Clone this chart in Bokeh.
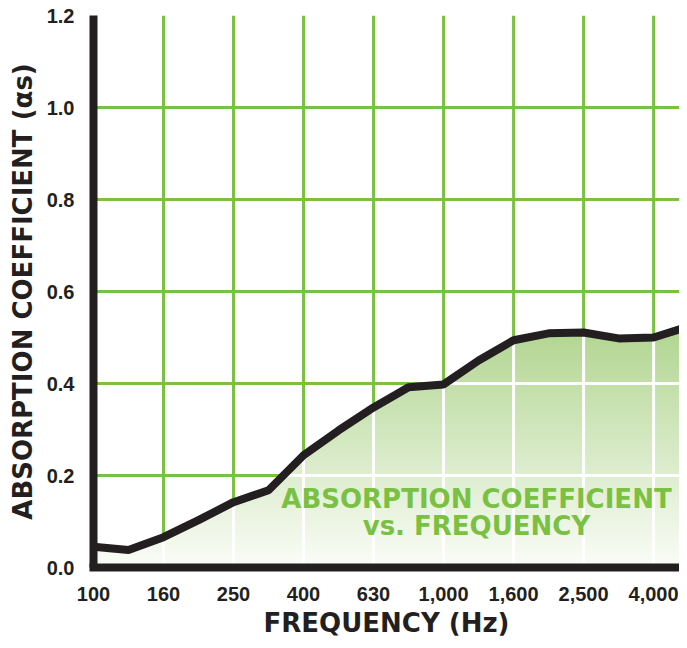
import numpy as np
from bokeh.plotting import figure
from bokeh.models import Range1d, FixedTicker
from bokeh.core.properties import value
from bokeh.embed import file_html
from bokeh.resources import INLINE

# ---- data ----
frequencies = ["100", "125", "160", "200", "250", "315", "400", "500", "630",
               "800", "1000", "1250", "1600", "2000", "2500", "3150", "4000", "5000"]
absorption = [0.045, 0.038, 0.066, 0.103, 0.142, 0.168, 0.244, 0.298, 0.348,
              0.392, 0.398, 0.450, 0.494, 0.509, 0.511, 0.498, 0.500, 0.524]
x_tick_labels = ["100", "160", "250", "400", "630", "1,000", "1,600", "2,500", "4,000"]
y_ticks = [0.0, 0.2, 0.4, 0.6, 0.8, 1.0, 1.2]
y_tick_labels = ["0.0", "0.2", "0.4", "0.6", "0.8", "1.0", "1.2"]
x_title = "FREQUENCY (Hz)"
y_title = "ABSORPTION COEFFICIENT (αs)"
inset_lines = ["ABSORPTION COEFFICIENT", "vs. FREQUENCY"]

# ---- styles ----
INK = "#231f20"
GREEN = "#7ac143"
FONT = "DejaVu Sans"
TICK_FONT = "Liberation Sans"

xs = np.arange(len(frequencies), dtype=float)
ys = np.array(absorption)
tick_pos = [frequencies.index(l.replace(",", "")) for l in x_tick_labels]
x_max = 16.74
y_max = 1.2

p = figure(width=679, height=640, output_backend="svg", toolbar_location=None,
           x_range=Range1d(0, x_max), y_range=Range1d(0, y_max),
           min_border_left=93, min_border_right=0, min_border_top=15, min_border_bottom=72)
p.outline_line_color = None
p.xgrid.visible = False
p.ygrid.visible = False
p.background_fill_color = "white"
p.border_fill_color = "white"

# gradient fill under the curve: vertical gradient image, masked above the curve
N = 240
top_val = 0.53
img = np.empty((N, 1), dtype=np.uint32)
view = img.view(dtype=np.uint8).reshape((N, 1, 4))
c0 = np.array([251, 253, 248])
c1 = np.array([176, 213, 143])
for i in range(N):
    t = i / (N - 1)
    c = c0 + (c1 - c0) * t
    view[i, 0, 0:3] = c.astype(np.uint8)
    view[i, 0, 3] = 255
p.image_rgba(image=[img], x=0, y=0, dw=float(len(frequencies) - 1), dh=top_val)
p.patch(x=list(xs) + [xs[-1] + 1, xs[-1] + 1, -1, -1],
        y=list(ys) + [ys[-1], 1.5, 1.5, ys[0]],
        fill_color="white", line_color=None)

# grid: green above curve, white below
gx0, gy0, gx1, gy1 = [], [], [], []
wx0, wy0, wx1, wy1 = [], [], [], []
for tp in tick_pos:
    if tp == 0:
        continue
    cv = ys[tp]
    gx0.append(tp); gy0.append(cv); gx1.append(tp); gy1.append(y_max)
    wx0.append(tp); wy0.append(0); wx1.append(tp); wy1.append(cv)
for lvl in y_ticks:
    if lvl <= 0 or lvl >= y_max:
        continue
    idx = np.where(ys >= lvl)[0]
    if len(idx) == 0:
        gx0.append(0); gy0.append(lvl); gx1.append(xs[-1]); gy1.append(lvl)
    else:
        i = idx[0]
        xc = xs[i - 1] + (lvl - ys[i - 1]) / (ys[i] - ys[i - 1]) * (xs[i] - xs[i - 1])
        gx0.append(0); gy0.append(lvl); gx1.append(xc); gy1.append(lvl)
        wx0.append(xc); wy0.append(lvl); wx1.append(xs[-1]); wy1.append(lvl)
p.segment(x0=wx0, y0=wy0, x1=wx1, y1=wy1, line_color="white", line_width=3)
p.segment(x0=gx0, y0=gy0, x1=gx1, y1=gy1, line_color=GREEN, line_width=3)

# curve
p.line(xs, ys, line_color=INK, line_width=8)

# inset title
p.text(x=[10.94, 10.94], y=[0.150, 0.090], text=inset_lines,
       text_font=value(FONT), text_font_style="bold", text_font_size="26px",
       text_color=GREEN, text_align="center", text_baseline="middle")

# axes
for ax in (p.xaxis[0], p.yaxis[0]):
    ax.axis_line_color = INK
    ax.axis_line_width = 8
    ax.major_tick_line_color = None
    ax.minor_tick_line_color = None
    ax.major_label_text_font = TICK_FONT
    ax.major_label_text_font_style = "bold"
    ax.major_label_text_font_size = "20px"
    ax.major_label_text_color = INK
    ax.axis_label_text_font = FONT
    ax.axis_label_text_font_style = "bold"
    ax.axis_label_text_font_size = "26px"
    ax.axis_label_text_color = INK
p.xaxis.axis_line_cap = "square"

p.xaxis.ticker = FixedTicker(ticks=tick_pos)
p.xaxis.major_label_overrides = {tp: lab for tp, lab in zip(tick_pos, x_tick_labels)}
p.xaxis.major_label_standoff = 13
p.xaxis.axis_label = x_title
p.xaxis.axis_label_standoff = 4

p.yaxis.ticker = FixedTicker(ticks=y_ticks)
p.yaxis.major_label_overrides = {t: lab for t, lab in zip(y_ticks, y_tick_labels)}
p.yaxis.major_label_standoff = 13
p.yaxis.axis_label = y_title
p.yaxis.axis_label_standoff = 6

open("out.html", "w").write(file_html(p, INLINE))
